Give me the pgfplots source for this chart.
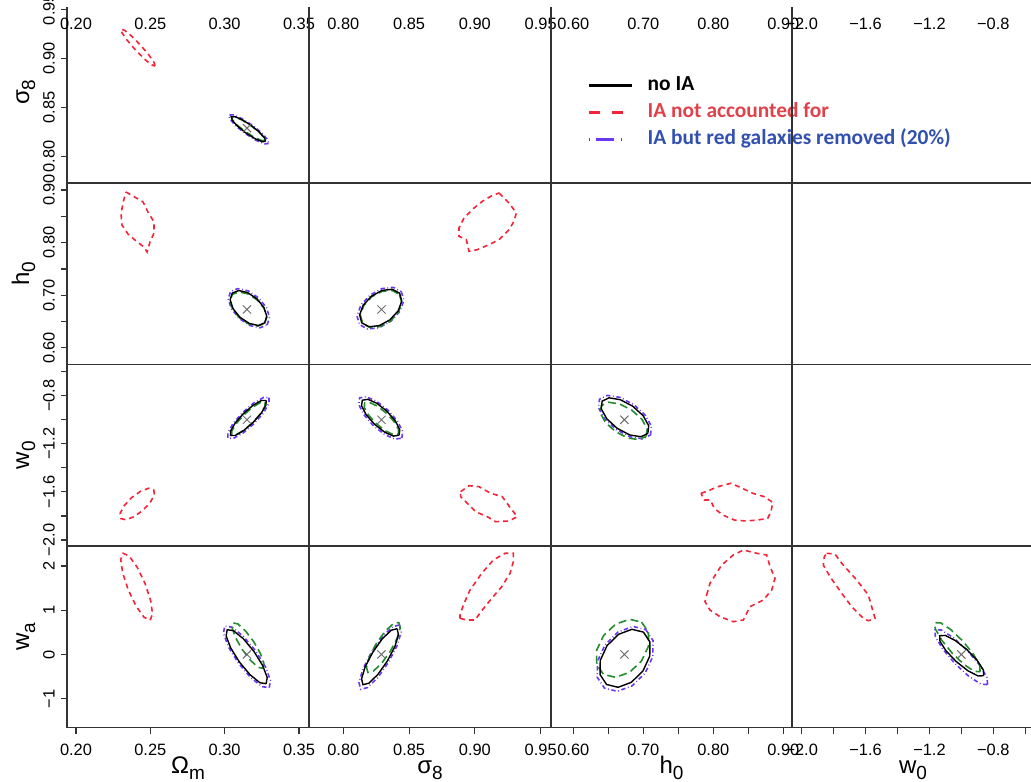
\documentclass[border=0pt]{standalone}
\usepackage{fontspec}
\setmainfont{Liberation Sans}
\newfontfamily\legfont{Carlito}
\usepackage{pgfplots}
\pgfplotsset{compat=1.18}
\definecolor{cRed}{RGB}{245,35,55}
\definecolor{cPur}{RGB}{105,55,245}
\definecolor{cGrn}{RGB}{35,140,45}
\definecolor{cGry}{RGB}{110,110,110}
\definecolor{tRed}{RGB}{225,65,75}
\definecolor{tBlue}{RGB}{50,80,175}
\newcommand{\albl}[2]{\fontsize{12}{14}\selectfont #1\raisebox{-0.25em}{\fontsize{9.5}{11}\selectfont #2}}
\pgfplotsset{
 cell/.style={scale only axis, width=121pt, height=90.75pt, anchor=south west,
   axis line style={black!80, line width=0.55pt}, xtick=\empty, ytick=\empty,
   major tick length=3pt, tick align=outside, tick style={black!80, line width=0.55pt},
   ticklabel style={font=\fontsize{8.2}{9.5}\selectfont},
   every axis x label/.style={at={(axis description cs:0.5,-0.2507)}, anchor=base},
   every axis y label/.style={at={(axis description cs:-0.157,0.5)}, rotate=90, anchor=base}},
 cO/.style={xmin=0.19395, xmax=0.35673},
 cS/.style={xmin=0.77393, xmax=0.95783},
 cH/.style={xmin=0.5681, xmax=0.9124, width=120.5pt},
 cW/.style={xmin=-2.0607, xmax=-0.5451},
 rS/.style={ymin=0.7733, ymax=0.9577},
 rH/.style={ymin=0.5685, ymax=0.9133},
 rW/.style={ymin=-2.0499, ymax=-0.5405},
 rA/.style={ymin=-1.651, ymax=2.452},
 xtO/.style={xtick={0.20,0.25,0.30,0.35}, xticklabels={0.20,0.25,0.30,0.35}},
 xtS/.style={xtick={0.80,0.85,0.90,0.95}, xticklabels={0.80,0.85,0.90,0.95}},
 xtH/.style={xtick={0.60,0.65,0.70,0.75,0.80,0.85,0.90}, xticklabels={0.60,,0.70,,0.80,,0.90}},
 xtW/.style={xtick={-2.0,-1.8,-1.6,-1.4,-1.2,-1.0,-0.8,-0.6}, xticklabels={−2.0,,−1.6,,−1.2,,−0.8,}},
 ytS/.style={ytick={0.80,0.85,0.90,0.95}, yticklabels={0.80,0.85,0.90,0.95}},
 ytH/.style={ytick={0.60,0.65,0.70,0.75,0.80,0.85,0.90}, yticklabels={0.60,,0.70,,0.80,,0.90}},
 ytW/.style={ytick={-2.0,-1.8,-1.6,-1.4,-1.2,-1.0,-0.8,-0.6}, yticklabels={−2.0,,−1.6,,−1.2,,−0.8,}},
 ytA/.style={ytick={-1,0,1,2}, yticklabels={−1,0,1,2}},
 btX/.style={xtick pos=left, xticklabel pos=left, xticklabel style={anchor=center}, xticklabel shift=8pt},
 tpX/.style={xtick pos=right, xticklabel pos=right, xtick style={draw=none}, xticklabel style={anchor=center}, xticklabel shift=-14.25pt},
 lfY/.style={ytick pos=left, yticklabel pos=left, yticklabel style={rotate=90, anchor=center}, yticklabel shift=6pt},
 lnK/.style={black, line width=0.7pt},
 lnR/.style={cRed, line width=0.8pt, dash pattern=on 2.5pt off 2pt},
 lnG/.style={cGrn, line width=0.8pt, dash pattern=on 4pt off 2.2pt},
 lnP/.style={cPur, line width=0.8pt, dash pattern=on 2.2pt off 1.3pt on 0.4pt off 1.3pt},
 fid/.style={only marks, mark=x, mark size=2.9pt, cGry, mark options={line width=0.5pt}},
}
\begin{document}
\begin{tikzpicture}
% ---------------- row 1 : sigma8 ----------------
\begin{axis}[cell, cO, rS, at={(33.5pt,299pt)}, tpX, xtO, lfY, ytS, ylabel={\albl{σ}{8}}]
\addplot[lnR] coordinates {(0.2531,0.8921) (0.2525,0.8958) (0.2489,0.9036) (0.2434,0.9133) (0.2375,0.9224) (0.2327,0.9284) (0.2303,0.9297) (0.2309,0.9260) (0.2345,0.9182) (0.2400,0.9085) (0.2459,0.8994) (0.2507,0.8934) (0.2531,0.8921)};
\addplot[lnP] coordinates {(0.3296,0.8134) (0.3267,0.8130) (0.3210,0.8167) (0.3141,0.8233) (0.3076,0.8311) (0.3036,0.8381) (0.3028,0.8422) (0.3057,0.8426) (0.3114,0.8389) (0.3183,0.8323) (0.3248,0.8245) (0.3288,0.8175) (0.3296,0.8134)};
\addplot[lnG] coordinates {(0.3270,0.8165) (0.3247,0.8165) (0.3200,0.8196) (0.3142,0.8252) (0.3088,0.8316) (0.3053,0.8372) (0.3046,0.8405) (0.3069,0.8405) (0.3116,0.8374) (0.3174,0.8318) (0.3228,0.8254) (0.3263,0.8198) (0.3270,0.8165)};
\addplot[lnK] coordinates {(0.3275,0.8155) (0.3251,0.8153) (0.3202,0.8185) (0.3142,0.8242) (0.3087,0.8310) (0.3051,0.8369) (0.3045,0.8405) (0.3069,0.8407) (0.3118,0.8375) (0.3178,0.8318) (0.3233,0.8250) (0.3269,0.8191) (0.3275,0.8155)};
\addplot[fid] coordinates {(0.315,0.829)};
\end{axis}
\begin{axis}[cell, cS, rS, at={(154.5pt,299pt)}, tpX, xtS]
\end{axis}
\begin{axis}[cell, cH, rS, at={(275.5pt,299pt)}, tpX, xtH,
  legend image code/.code={\draw[#1] (0pt,0pt) -- (21.5pt,0pt); \path (29pt,0pt);},
  legend cell align=left,
  legend style={draw=none, fill=none, at={(0.149,0.60)}, anchor=north west,
    font={\legfont\bfseries\fontsize{10.7}{12}\selectfont}, row sep=2.5pt, inner sep=0pt,
    nodes={inner sep=0pt, text height=8pt, text depth=3pt}}]
\addlegendimage{black, line width=1.15pt}
\addlegendentry{\textcolor{black}{no IA}}
\addlegendimage{cRed, line width=1.2pt, dash pattern=on 5.5pt off 6pt}
\addlegendentry{\textcolor{tRed}{IA not accounted for}}
\addlegendimage{cPur, line width=1.1pt, dash pattern=on 0.7pt off 3.2pt on 9pt off 3.2pt on 0.7pt off 20pt}
\addlegendentry{\textcolor{tBlue}{IA but red galaxies removed (20\%)}}
\end{axis}
\begin{axis}[cell, cW, rS, at={(396pt,299pt)}, tpX, xtW]
\end{axis}
% ---------------- row 2 : h0 ----------------
\begin{axis}[cell, cO, rH, at={(33.5pt,208.25pt)}, lfY, ytH, ylabel={\albl{h}{0}}]
\addplot[lnR] coordinates {(0.2336,0.8962) (0.2383,0.8886) (0.2451,0.8772) (0.2484,0.8582) (0.2525,0.8392) (0.2525,0.8183) (0.2498,0.8012) (0.2478,0.7822) (0.2457,0.7917) (0.2404,0.8031) (0.2350,0.8164) (0.2309,0.8335) (0.2303,0.8544) (0.2316,0.8753) (0.2336,0.8962)};
\addplot[lnP] coordinates {(0.3286,0.6438) (0.3302,0.6580) (0.3281,0.6767) (0.3227,0.6952) (0.3158,0.7084) (0.3088,0.7127) (0.3040,0.7072) (0.3024,0.6930) (0.3045,0.6743) (0.3099,0.6558) (0.3168,0.6427) (0.3238,0.6383) (0.3286,0.6438)};
\addplot[lnG] coordinates {(0.3268,0.6462) (0.3284,0.6583) (0.3266,0.6747) (0.3220,0.6908) (0.3158,0.7025) (0.3097,0.7065) (0.3052,0.7018) (0.3036,0.6897) (0.3054,0.6733) (0.3100,0.6572) (0.3162,0.6455) (0.3223,0.6415) (0.3268,0.6462)};
\addplot[lnK] coordinates {(0.3269,0.6476) (0.3283,0.6602) (0.3264,0.6769) (0.3217,0.6934) (0.3154,0.7051) (0.3094,0.7090) (0.3051,0.7040) (0.3037,0.6914) (0.3056,0.6747) (0.3103,0.6582) (0.3166,0.6465) (0.3226,0.6426) (0.3269,0.6476)};
\addplot[fid] coordinates {(0.315,0.673)};
\end{axis}
\begin{axis}[cell, cS, rH, at={(154.5pt,208.25pt)}]
\addplot[lnR] coordinates {(0.9183,0.8943) (0.9259,0.8753) (0.9315,0.8563) (0.9297,0.8405) (0.9259,0.8246) (0.9183,0.8056) (0.9107,0.7961) (0.9018,0.7866) (0.8955,0.7835) (0.8935,0.8056) (0.8879,0.8120) (0.8879,0.8278) (0.8917,0.8468) (0.8993,0.8658) (0.9057,0.8785) (0.9120,0.8880) (0.9183,0.8943)};
\addplot[lnP] coordinates {(0.8441,0.7067) (0.8460,0.6901) (0.8430,0.6694) (0.8360,0.6505) (0.8270,0.6382) (0.8184,0.6359) (0.8123,0.6443) (0.8104,0.6609) (0.8134,0.6816) (0.8204,0.7005) (0.8294,0.7128) (0.8380,0.7151) (0.8441,0.7067)};
\addplot[lnG] coordinates {(0.8427,0.7012) (0.8444,0.6861) (0.8419,0.6677) (0.8359,0.6510) (0.8279,0.6405) (0.8202,0.6389) (0.8147,0.6468) (0.8130,0.6619) (0.8155,0.6803) (0.8215,0.6970) (0.8295,0.7075) (0.8372,0.7091) (0.8427,0.7012)};
\addplot[lnK] coordinates {(0.8428,0.7039) (0.8444,0.6889) (0.8417,0.6704) (0.8354,0.6533) (0.8273,0.6423) (0.8195,0.6402) (0.8140,0.6477) (0.8124,0.6627) (0.8151,0.6812) (0.8214,0.6983) (0.8295,0.7093) (0.8373,0.7114) (0.8428,0.7039)};
\addplot[fid] coordinates {(0.829,0.673)};
\end{axis}
\begin{axis}[cell, cH, rH, at={(275.5pt,208.25pt)}]
\end{axis}
\begin{axis}[cell, cW, rH, at={(396pt,208.25pt)}]
\end{axis}
% ---------------- row 3 : w0 ----------------
\begin{axis}[cell, cO, rW, at={(33.5pt,117.5pt)}, lfY, ytW, ylabel={\albl{w}{0}}]
\addplot[lnR] coordinates {(0.2523,-1.5800) (0.2527,-1.6227) (0.2500,-1.6863) (0.2450,-1.7537) (0.2389,-1.8069) (0.2335,-1.8316) (0.2301,-1.8212) (0.2297,-1.7785) (0.2324,-1.7149) (0.2374,-1.6475) (0.2435,-1.5943) (0.2489,-1.5696) (0.2523,-1.5800)};
\addplot[lnP] coordinates {(0.3298,-0.8164) (0.3298,-0.8627) (0.3262,-0.9419) (0.3198,-1.0325) (0.3124,-1.1105) (0.3059,-1.1548) (0.3022,-1.1536) (0.3022,-1.1073) (0.3058,-1.0281) (0.3123,-0.9375) (0.3196,-0.8595) (0.3261,-0.8152) (0.3298,-0.8164)};
\addplot[lnG] coordinates {(0.3272,-0.854) (0.3271,-0.8892) (0.3240,-0.9514) (0.3188,-1.024) (0.3128,-1.0874) (0.3077,-1.1248) (0.3048,-1.126) (0.3049,-1.0908) (0.3080,-1.0286) (0.3132,-0.956) (0.3192,-0.8926) (0.3243,-0.8552) (0.3272,-0.854)};
\addplot[lnK] coordinates {(0.3279,-0.8395) (0.3278,-0.8783) (0.3246,-0.9458) (0.3190,-1.0239) (0.3126,-1.0917) (0.3071,-1.1310) (0.3039,-1.1313) (0.3040,-1.0925) (0.3072,-1.0250) (0.3128,-0.9469) (0.3192,-0.8791) (0.3247,-0.8398) (0.3279,-0.8395)};
\addplot[fid] coordinates {(0.315,-1)};
\end{axis}
\begin{axis}[cell, cS, rW, at={(154.5pt,117.5pt)}]
\addplot[lnR] coordinates {(0.8892,-1.5983) (0.8955,-1.5484) (0.9031,-1.5568) (0.9120,-1.6116) (0.9208,-1.6399) (0.9272,-1.7364) (0.9322,-1.8062) (0.9259,-1.8420) (0.9158,-1.8478) (0.9094,-1.8062) (0.9006,-1.7647) (0.8943,-1.6948) (0.8892,-1.6399) (0.8892,-1.5983)};
\addplot[lnP] coordinates {(0.8445,-1.1519) (0.8451,-1.0975) (0.8412,-1.0128) (0.8340,-0.9208) (0.8252,-0.8459) (0.8173,-0.8083) (0.8124,-0.8181) (0.8117,-0.8725) (0.8156,-0.9572) (0.8228,-1.0492) (0.8316,-1.1241) (0.8395,-1.1617) (0.8445,-1.1519)};
\addplot[lnG] coordinates {(0.8418,-1.120) (0.8420,-1.0806) (0.8387,-1.0169) (0.8328,-0.946) (0.8259,-0.8869) (0.8198,-0.8554) (0.8162,-0.860) (0.8160,-0.8994) (0.8193,-0.9631) (0.8252,-1.034) (0.8321,-1.0931) (0.8382,-1.1246) (0.8418,-1.120)};
\addplot[lnK] coordinates {(0.8424,-1.1285) (0.8429,-1.0820) (0.8395,-1.0089) (0.8331,-0.9289) (0.8255,-0.8634) (0.8187,-0.8300) (0.8144,-0.8375) (0.8139,-0.8840) (0.8173,-0.9571) (0.8237,-1.0371) (0.8313,-1.1026) (0.8381,-1.1360) (0.8424,-1.1285)};
\addplot[fid] coordinates {(0.829,-1)};
\end{axis}
\begin{axis}[cell, cH, rW, at={(275.5pt,117.5pt)}]
\addplot[lnR] coordinates {(0.7824,-1.6116) (0.7920,-1.5925) (0.8062,-1.5568) (0.8252,-1.5285) (0.8395,-1.5651) (0.8562,-1.6116) (0.8728,-1.6399) (0.8848,-1.6865) (0.8824,-1.7647) (0.8777,-1.8195) (0.8634,-1.8337) (0.8467,-1.8420) (0.8300,-1.8337) (0.8134,-1.7921) (0.8014,-1.7364) (0.7957,-1.6673) (0.7871,-1.6673) (0.7824,-1.6116)};
\addplot[lnP] coordinates {(0.7102,-1.1267) (0.7116,-1.0549) (0.7029,-0.9625) (0.6864,-0.8742) (0.6665,-0.8138) (0.6487,-0.7973) (0.6374,-0.8293) (0.6360,-0.9011) (0.6447,-0.9935) (0.6612,-1.0818) (0.6811,-1.1422) (0.6989,-1.1587) (0.7102,-1.1267)};
\addplot[lnG] coordinates {(0.7040,-1.138) (0.7055,-1.0758) (0.6980,-0.9961) (0.6835,-0.920) (0.6660,-0.8681) (0.6500,-0.8542) (0.6400,-0.882) (0.6385,-0.9442) (0.6460,-1.0239) (0.6605,-1.100) (0.6780,-1.1519) (0.6940,-1.1658) (0.7040,-1.138)};
\addplot[lnK] coordinates {(0.7065,-1.1135) (0.7077,-1.0496) (0.6998,-0.9669) (0.6849,-0.8876) (0.6670,-0.8330) (0.6510,-0.8176) (0.6411,-0.8457) (0.6399,-0.9096) (0.6478,-0.9923) (0.6627,-1.0716) (0.6806,-1.1262) (0.6966,-1.1416) (0.7065,-1.1135)};
\addplot[fid] coordinates {(0.673,-1)};
\end{axis}
\begin{axis}[cell, cW, rW, at={(396pt,117.5pt)}]
\end{axis}
% ---------------- row 4 : wa ----------------
\begin{axis}[cell, cO, rA, at={(33.5pt,26.75pt)}, btX, xtO, lfY, ytA, xlabel={\albl{Ω}{m}}, ylabel={\albl{w}{a}}]
\addplot[lnR] coordinates {(0.2499,0.7769) (0.2515,0.9162) (0.2502,1.2204) (0.2464,1.6082) (0.2411,1.9756) (0.2358,2.2240) (0.2317,2.2871) (0.2301,2.1478) (0.2314,1.8436) (0.2352,1.4558) (0.2405,1.0884) (0.2458,0.8400) (0.2499,0.7769)};
\addplot[lnP] coordinates {(0.3300,-0.7505) (0.3308,-0.5878) (0.3275,-0.2823) (0.3208,0.0841) (0.3125,0.4132) (0.3049,0.6169) (0.3000,0.6405) (0.2992,0.4778) (0.3025,0.1723) (0.3092,-0.1941) (0.3175,-0.5232) (0.3251,-0.7269) (0.3300,-0.7505)};
\addplot[lnG] coordinates {(0.3258,-0.315) (0.3264,-0.2025) (0.3241,0.0178) (0.3196,0.287) (0.3140,0.5328) (0.3089,0.6895) (0.3056,0.715) (0.3050,0.6025) (0.3073,0.3822) (0.3118,0.113) (0.3174,-0.1328) (0.3225,-0.2895) (0.3258,-0.315)};
\addplot[lnK] coordinates {(0.3279,-0.6609) (0.3286,-0.5196) (0.3256,-0.2526) (0.3197,0.0686) (0.3125,0.3578) (0.3059,0.5377) (0.3017,0.5599) (0.3010,0.4186) (0.3040,0.1516) (0.3099,-0.1696) (0.3171,-0.4588) (0.3237,-0.6387) (0.3279,-0.6609)};
\addplot[fid] coordinates {(0.315,0)};
\end{axis}
\begin{axis}[cell, cS, rA, at={(154.5pt,26.75pt)}, btX, xtS, xlabel={\albl{σ}{8}}]
\addplot[lnR] coordinates {(0.8887,0.8177) (0.8938,0.7792) (0.9001,0.7792) (0.9052,0.9895) (0.9128,1.2698) (0.9204,1.5320) (0.9267,1.835) (0.9292,2.0972) (0.9292,2.2871) (0.9229,2.2871) (0.9140,2.1356) (0.9052,1.835) (0.8963,1.4574) (0.8912,1.1183) (0.8887,0.8923) (0.8887,0.8177)};
\addplot[lnP] coordinates {(0.8427,0.6676) (0.8440,0.5113) (0.8409,0.2018) (0.8343,-0.1777) (0.8261,-0.5258) (0.8183,-0.7490) (0.8131,-0.7876) (0.8119,-0.6313) (0.8150,-0.3218) (0.8215,0.0577) (0.8297,0.4058) (0.8375,0.6290) (0.8427,0.6676)};
\addplot[lnG] coordinates {(0.8422,0.725) (0.8432,0.6018) (0.8408,0.3602) (0.8356,0.065) (0.8290,-0.2048) (0.8228,-0.3768) (0.8186,-0.405) (0.8176,-0.2818) (0.8200,-0.0402) (0.8252,0.255) (0.8318,0.5248) (0.8380,0.6968) (0.8422,0.725)};
\addplot[lnK] coordinates {(0.8409,0.5825) (0.8419,0.4475) (0.8392,0.1791) (0.8334,-0.1509) (0.8262,-0.4539) (0.8194,-0.6489) (0.8149,-0.6835) (0.8139,-0.5485) (0.8166,-0.2801) (0.8224,0.0499) (0.8296,0.3529) (0.8364,0.5479) (0.8409,0.5825)};
\addplot[fid] coordinates {(0.829,0)};
\end{axis}
\begin{axis}[cell, cH, rA, at={(275.5pt,26.75pt)}, btX, xtH, xlabel={\albl{h}{0}}]
\addplot[lnR] coordinates {(0.7905,1.3444) (0.7952,1.6089) (0.8120,2.0226) (0.8285,2.2487) (0.8428,2.3617) (0.8620,2.2871) (0.8762,2.2487) (0.8810,1.9842) (0.8881,1.7219) (0.8834,1.4574) (0.8714,1.2314) (0.8524,1.0799) (0.8428,0.7792) (0.8285,0.7408) (0.8095,0.8538) (0.7952,1.0053) (0.7881,1.1929) (0.7905,1.3444)};
\addplot[lnP] coordinates {(0.7034,0.5634) (0.7138,0.3156) (0.7136,-0.0435) (0.7027,-0.4178) (0.6842,-0.7069) (0.6629,-0.8334) (0.6446,-0.7634) (0.6342,-0.5156) (0.6344,-0.1565) (0.6453,0.2178) (0.6638,0.5069) (0.6851,0.6334) (0.7034,0.5634)};
\addplot[lnG] coordinates {(0.6975,0.730) (0.7074,0.5059) (0.7073,0.1839) (0.6973,-0.150) (0.6801,-0.4061) (0.6602,-0.5159) (0.6431,-0.450) (0.6332,-0.2259) (0.6333,0.0961) (0.6433,0.430) (0.6605,0.6861) (0.6804,0.7959) (0.6975,0.730)};
\addplot[lnK] coordinates {(0.7001,0.5057) (0.7094,0.2839) (0.7092,-0.0370) (0.6995,-0.3714) (0.6829,-0.6294) (0.6639,-0.7419) (0.6475,-0.6789) (0.6382,-0.4571) (0.6384,-0.1362) (0.6481,0.1982) (0.6647,0.4562) (0.6837,0.5687) (0.7001,0.5057)};
\addplot[fid] coordinates {(0.673,0)};
\end{axis}
\begin{axis}[cell, cW, rA, at={(396pt,26.75pt)}, btX, xtW, xlabel={\albl{w}{0}}]
\addplot[lnR] coordinates {(-1.8434,2.2871) (-1.7914,2.2713) (-1.7494,2.0610) (-1.6555,1.6835) (-1.5828,1.3444) (-1.5409,0.8177) (-1.5828,0.7634) (-1.6141,0.8177) (-1.6868,1.0799) (-1.7494,1.3828) (-1.8227,1.7581) (-1.8647,2.0226) (-1.8584,2.2102) (-1.8434,2.2871)};
\addplot[lnP] coordinates {(-0.836,-0.680) (-0.8391,-0.5216) (-0.8856,-0.2396) (-0.963,0.0906) (-1.0506,0.3804) (-1.1249,0.5522) (-1.166,0.560) (-1.1629,0.4016) (-1.1164,0.1196) (-1.039,-0.2106) (-0.9514,-0.5004) (-0.8771,-0.6722) (-0.836,-0.680)};
\addplot[lnG] coordinates {(-0.883,-0.390) (-0.8849,-0.2486) (-0.9241,0.0035) (-0.990,0.299) (-1.0651,0.5585) (-1.1291,0.7126) (-1.165,0.720) (-1.1631,0.5786) (-1.1239,0.3265) (-1.058,0.031) (-0.9829,-0.2285) (-0.9189,-0.3826) (-0.883,-0.390)};
\addplot[lnK] coordinates {(-0.8602,-0.4801) (-0.8619,-0.3526) (-0.8999,-0.1382) (-0.9643,0.1058) (-1.0377,0.3140) (-1.1005,0.4304) (-1.1358,0.4241) (-1.1341,0.2966) (-1.0961,0.0822) (-1.0317,-0.1618) (-0.9583,-0.3700) (-0.8955,-0.4864) (-0.8602,-0.4801)};
\addplot[fid] coordinates {(-1,0)};
\end{axis}
\fill[white] (33.2pt,386.75pt) rectangle (520pt,392pt);
\pgfresetboundingbox
\path[use as bounding box] (0pt,0pt) rectangle (515.5pt,390.5pt);
\end{tikzpicture}
\end{document}
